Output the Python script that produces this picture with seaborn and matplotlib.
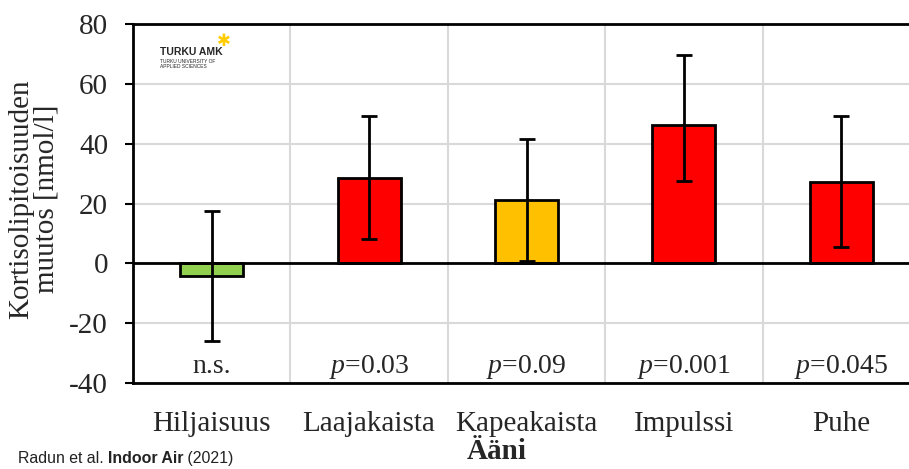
import matplotlib
matplotlib.use("Agg")
import matplotlib.pyplot as plt
import seaborn as sns
import numpy as np
import pandas as pd

# data
categories = ["Hiljaisuus", "Laajakaista", "Kapeakaista", "Impulssi", "Puhe"]
values = [-4.3, 28.5, 21.3, 46.4, 27.3]
err_low = [-26.0, 8.0, 0.8, 27.4, 5.5]
err_high = [17.5, 49.1, 41.7, 69.7, 49.2]
bar_colors = ["#92D050", "#FF0000", "#FFC000", "#FF0000", "#FF0000"]
p_labels = ["n.s.", "$p$=0.03", "$p$=0.09", "$p$=0.001", "$p$=0.045"]
y_ticks = [-40, -20, 0, 20, 40, 60, 80]

sns.set_style("white")
plt.rcParams["font.family"] = ["Liberation Serif", "DejaVu Serif"]
plt.rcParams["mathtext.fontset"] = "custom"
plt.rcParams["mathtext.it"] = "Liberation Serif:italic"
plt.rcParams["mathtext.rm"] = "Liberation Serif"

df = pd.DataFrame({"cat": categories, "val": values})

fig = plt.figure(figsize=(9.09, 4.69), dpi=100)
# axes runs slightly past the right edge like the reference crop
ax = fig.add_axes([133 / 909, 1 - 383 / 469, (920 - 133) / 909, (383 - 24) / 469])

sns.barplot(data=df, x="cat", y="val", hue="cat", palette=bar_colors,
            saturation=1, legend=False, width=0.4, edgecolor="black",
            linewidth=2, ax=ax, zorder=3)

x = np.arange(len(categories))
vals = np.array(values)
yerr = [vals - np.array(err_low), np.array(err_high) - vals]
ax.errorbar(x, vals, yerr=yerr, fmt="none", ecolor="black",
            elinewidth=2, capsize=5.5, capthick=2, zorder=4)

ax.set_xlim(-0.5, 4.5)
ax.set_ylim(-40, 80)
ax.set_yticks(y_ticks)
ax.set_yticklabels([str(t) for t in y_ticks], fontsize=21)
ax.set_xticks(x)
ax.set_xticklabels(categories, fontsize=21)

# grid: horizontal at the y ticks, vertical between categories
for t in y_ticks:
    ax.axhline(t, color="#d9d9d9", lw=1.5, zorder=0)
for b in np.arange(0.5, 4.5, 1):
    ax.axvline(b, color="#d9d9d9", lw=1.5, zorder=0)
ax.axhline(0, color="black", lw=2, zorder=5)

for s in ["left", "bottom", "top"]:
    ax.spines[s].set_visible(True)
    ax.spines[s].set_color("black")
    ax.spines[s].set_linewidth(2)
ax.spines["right"].set_visible(False)

ax.tick_params(axis="y", length=6, width=1.5, color="black", pad=12, left=True)
ax.tick_params(axis="x", length=0, pad=20)

ax.set_xlabel("")
ax.set_ylabel("")
fig.text(497 / 909, 1 - 459 / 469, "Ääni", fontsize=21, fontweight="bold",
         ha="center", va="baseline")
fig.text(34 / 909, 1 - 199 / 469, "Kortisolipitoisuuden\nmuutos [nmol/l]",
         fontsize=21, rotation=90, ha="center", va="center",
         multialignment="center", linespacing=0.95)

for i, lab in enumerate(p_labels):
    ax.text(i, -34.5, lab, ha="center", va="center", fontsize=20, zorder=6)

# logo
fig.text(160 / 909, 1 - 52 / 469, "TURKU AMK", family="Liberation Sans",
         fontweight="bold", fontsize=7.5, va="center")
fig.text(224 / 909, 1 - 41 / 469, "\u2731", family="DejaVu Sans",
         color="#FFCC00", fontsize=12, ha="center", va="center")
fig.text(160 / 909, 1 - 61 / 469, "TURKU UNIVERSITY OF", family="Liberation Sans",
         fontsize=3.5, va="center")
fig.text(160 / 909, 1 - 66 / 469, "APPLIED SCIENCES", family="Liberation Sans",
         fontsize=3.5, va="center")

# citation line, drawn in pieces
fig.canvas.draw()
r = fig.canvas.get_renderer()
xpos = 18 / 909
for piece, wt in [("Radun et al. ", "normal"), ("Indoor Air", "bold"), (" (2021)", "normal")]:
    t = fig.text(xpos, 1 - 463 / 469, piece, family="Liberation Sans",
                 fontweight=wt, fontsize=11.4, va="baseline", color="#222222")
    bb = t.get_window_extent(renderer=r)
    xpos += bb.width / fig.bbox.width

fig.savefig("out.png", dpi=100)
